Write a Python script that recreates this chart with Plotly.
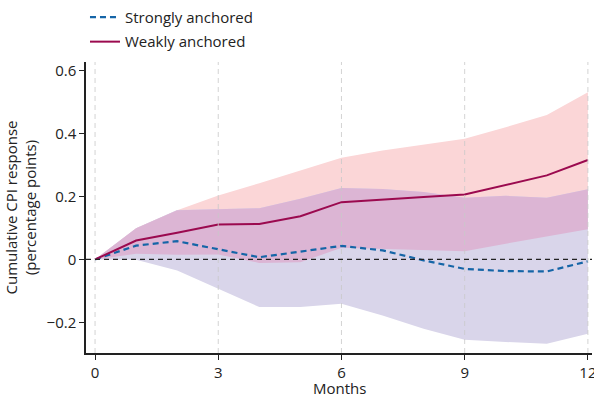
import plotly.graph_objects as go

# Cumulative CPI response by month after the shock (percentage points)
months = list(range(13))

strong = [0, 0.044, 0.058, 0.032, 0.007, 0.025, 0.043, 0.029, -0.003, -0.030, -0.037, -0.038, -0.006]
strong_lo = [0, -0.001, -0.035, -0.093, -0.151, -0.151, -0.141, -0.178, -0.220, -0.255, -0.262, -0.268, -0.236]
strong_hi = [0, 0.099, 0.157, 0.159, 0.163, 0.193, 0.227, 0.224, 0.214, 0.196, 0.202, 0.196, 0.223]

weak = [0, 0.060, 0.085, 0.111, 0.113, 0.137, 0.182, 0.189, 0.198, 0.206, 0.237, 0.267, 0.316]
weak_lo = [0, 0.018, 0.015, 0.016, -0.011, -0.009, 0.037, 0.032, 0.029, 0.026, 0.050, 0.074, 0.096]
weak_hi = [0, 0.099, 0.156, 0.203, 0.242, 0.283, 0.323, 0.346, 0.365, 0.383, 0.420, 0.459, 0.531]

x_ticks = [0, 3, 6, 9, 12]
y_ticks = [-0.2, 0, 0.2, 0.4, 0.6]

PINK = "#fbd6d7"
LAVENDER = "#d9d5ea"
OVERLAP = "#dcb5d4"
WEAK_COLOR = "#9b0a4f"
STRONG_COLOR = "#1565a7"
TEXT = "#222222"
FONT = "Open Sans"
FS = 15

MARGIN_B = 45
PLOT_H = 398 - 62 - MARGIN_B

# Region where both confidence bands overlap
both_lo = [max(a, b) for a, b in zip(weak_lo, strong_lo)]
both_hi = [min(a, b) for a, b in zip(weak_hi, strong_hi)]


def band(lo, hi, color):
    return go.Scatter(
        x=months + months[::-1],
        y=hi + lo[::-1],
        fill="toself",
        fillcolor=color,
        line=dict(width=0),
        mode="lines",
        hoverinfo="skip",
        showlegend=False,
    )


fig = go.Figure()
fig.add_trace(band(weak_lo, weak_hi, PINK))
fig.add_trace(band(strong_lo, strong_hi, LAVENDER))
fig.add_trace(band(both_lo, both_hi, OVERLAP))

fig.add_trace(go.Scatter(
    x=months, y=strong, mode="lines", name="Strongly anchored",
    line=dict(color=STRONG_COLOR, width=2.2, dash="6px,4px"),
    legendgroup="a",
))
fig.add_trace(go.Scatter(
    x=months, y=weak, mode="lines", name="Weakly anchored",
    line=dict(color=WEAK_COLOR, width=2),
    legendgroup="b",
))

# Dashed vertical guides at the month ticks
for t in x_ticks:
    fig.add_shape(type="line", xref="x", yref="paper", x0=t, x1=t, y0=0, y1=1,
                  line=dict(color="rgba(200,200,200,0.8)", width=1, dash="5px,4px"),
                  layer="above")

# Zero reference line
fig.add_shape(type="line", xref="paper", yref="y", x0=0, x1=1, y0=0, y1=0,
              line=dict(color="#222222", width=1.3, dash="5px,4px"), layer="above")

# X-axis title sitting at the bottom edge of the figure
fig.add_annotation(text="Months", xref="x domain", yref="paper",
                   x=0.5, y=-MARGIN_B / PLOT_H, yshift=-1,
                   xanchor="center", yanchor="bottom", showarrow=False,
                   borderpad=0,
                   font=dict(size=FS, color=TEXT))

fig.update_layout(
    width=594, height=398,
    margin=dict(l=86, r=2, t=62, b=MARGIN_B, autoexpand=False),
    paper_bgcolor="white", plot_bgcolor="white",
    font=dict(family=FONT, size=FS, color=TEXT),
    showlegend=True,
    legend=dict(
        x=-0.002, y=1.21, xanchor="left", yanchor="top",
        font=dict(size=FS, color=TEXT),
        bgcolor="rgba(0,0,0,0)",
        traceorder="grouped", tracegroupgap=2,
        itemwidth=30,
    ),
    xaxis=dict(
        range=[-0.22, 12.1],
        tickvals=x_ticks,
        showgrid=False, zeroline=False,
        showline=True, linecolor=TEXT, linewidth=1.5,
        ticks="outside", ticklen=5, tickcolor=TEXT, tickwidth=1.3,
        tickfont=dict(size=FS, color=TEXT),
        ticklabeloverflow="allow",
        automargin=False,
    ),
    yaxis=dict(
        range=[-0.297, 0.627],
        tickvals=y_ticks,
        ticktext=["\u22120.2", "0", "0.2", "0.4", "0.6"],
        showgrid=False, zeroline=False,
        showline=True, linecolor=TEXT, linewidth=1.5,
        ticks="outside", ticklen=5, tickcolor=TEXT, tickwidth=1.3,
        tickfont=dict(size=FS, color=TEXT),
        automargin=False,
        title=dict(text="Cumulative CPI response<br>(percentage points)",
                   font=dict(size=FS, color=TEXT), standoff=6),
    ),
)

fig.write_html("out.html")
